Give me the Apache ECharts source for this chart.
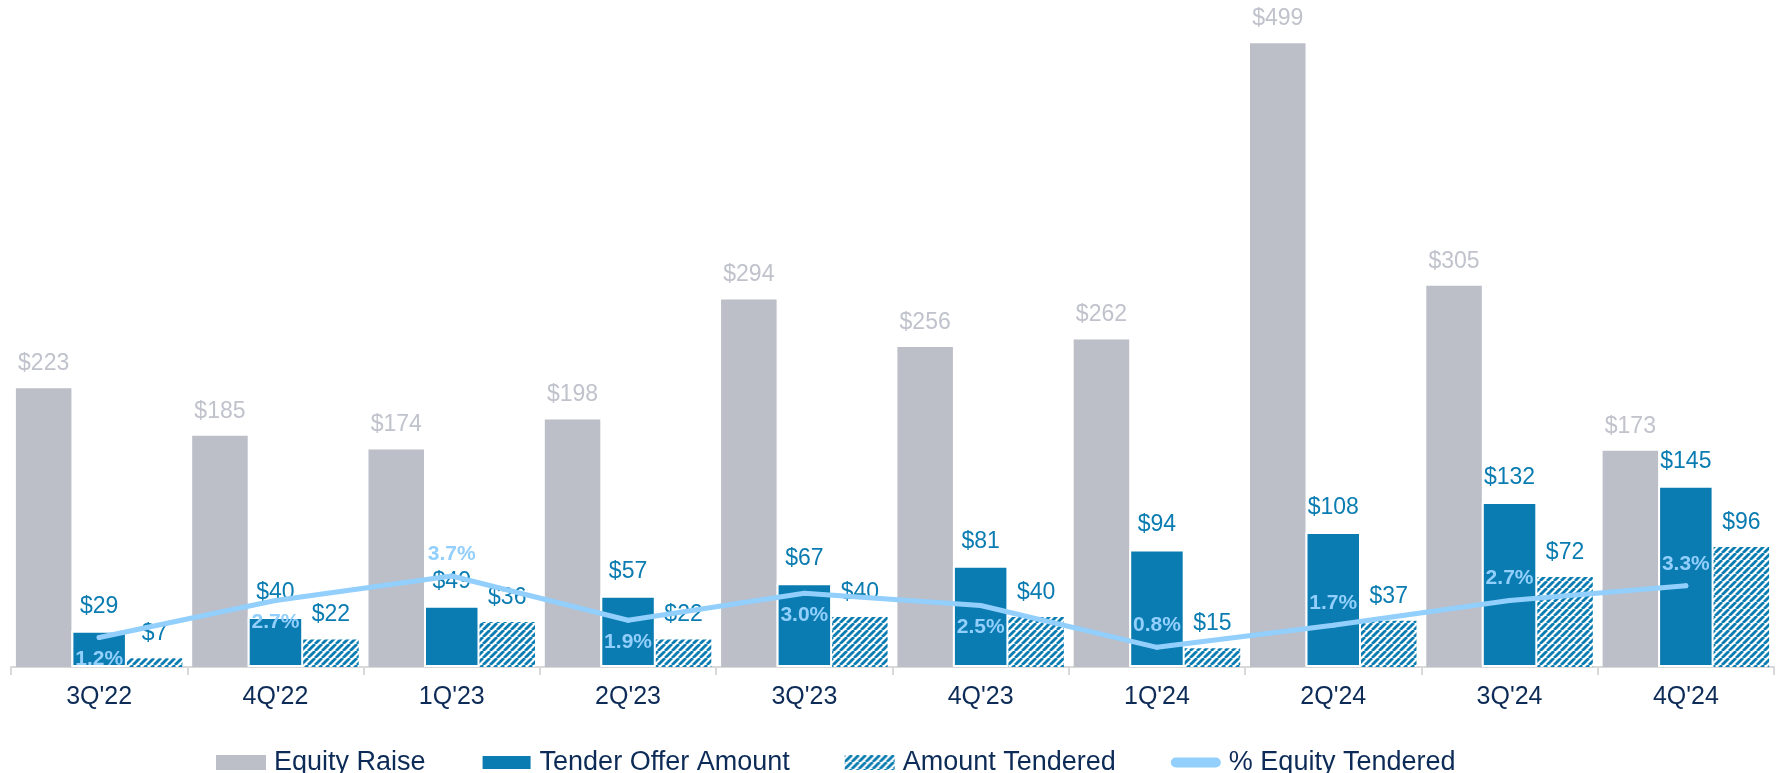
<!DOCTYPE html>
<html>
<head>
<meta charset="utf-8">
<script src="https://cdn.jsdelivr.net/npm/echarts@6/dist/echarts.min.js"></script>
<style>
  html, body { margin: 0; padding: 0; background: #fff; }
  #chart { width: 1777px; height: 773px; }
</style>
</head>
<body>
<div id="chart"></div>
<script>
// quarters on the x axis
const categories = ["3Q'22", "4Q'22", "1Q'23", "2Q'23", "3Q'23", "4Q'23", "1Q'24", "2Q'24", "3Q'24", "4Q'24"]
// $ amounts
const equityRaise = [223, 185, 174, 198, 294, 256, 262, 499, 305, 173]
const tenderOffer = [29, 40, 49, 57, 67, 81, 94, 108, 132, 145]
const amountTendered = [7, 22, 36, 22, 40, 40, 15, 37, 72, 96]
// % equity tendered (right axis)
const pctTendered = [1.2, 2.7, 3.7, 1.9, 3.0, 2.5, 0.8, 1.7, 2.7, 3.3]
// where each % label sits relative to its point
const pctLabelSide = ['bottom', 'bottom', 'top', 'bottom', 'bottom', 'bottom', 'top', 'top', 'top', 'top']

const FONT = 'Liberation Sans, Arial, sans-serif'
const GRAY = '#bcbec8'
const BLUE = '#0a7cb1'
const LIGHT = '#92cffc'
const NAVY = '#0d2b57'

// diagonal stripe fill for "Amount Tendered"
function stripes () {
  const c = document.createElement('canvas')
  const s = 7
  c.width = s
  c.height = s
  const ctx = c.getContext('2d')
  ctx.fillStyle = '#fff'
  ctx.fillRect(0, 0, s, s)
  ctx.strokeStyle = BLUE
  ctx.lineWidth = 2.8
  for (let k = -1; k <= 1; k++) {
    ctx.beginPath()
    ctx.moveTo(k * s, s)
    ctx.lineTo(k * s + s, 0)
    ctx.stroke()
  }
  return c
}

const chart = echarts.init(document.getElementById('chart'))

const barLabel = (color) => ({
  show: true,
  position: 'top',
  distance: 13,
  color: color,
  fontSize: 23,
  fontFamily: FONT,
  formatter: p => '$' + p.value
})

chart.setOption({
  animation: false,
  grid: { left: 11, right: 3, top: 42, bottom: 106 },
  legend: {
    left: 211,
    top: 744,
    itemWidth: 50,
    itemHeight: 15,
    itemGap: 55,
    textStyle: { color: NAVY, fontSize: 27, fontFamily: FONT, padding: [0, 0, 0, 3] },
    data: [
      { name: 'Equity Raise', icon: 'rect' },
      { name: 'Tender Offer Amount', icon: 'rect' },
      { name: 'Amount Tendered', icon: 'rect' },
      { name: '% Equity Tendered', icon: 'path://M5,0 L45,0 A5,5 0 0 1 45,10 L5,10 A5,5 0 0 1 5,0 Z' }
    ]
  },
  xAxis: {
    type: 'category',
    data: categories,
    axisLine: { lineStyle: { color: '#d9d9d9', width: 2 } },
    axisTick: { show: true, length: 8, lineStyle: { color: '#d9d9d9', width: 2 } },
    axisLabel: { color: NAVY, fontSize: 25, fontFamily: FONT, margin: 18, interval: 0 }
  },
  yAxis: [
    { type: 'value', min: 0, max: 500, show: false, splitLine: { show: false } },
    { type: 'value', min: 0, max: 25.4, show: false, splitLine: { show: false } }
  ],
  series: [
    {
      name: 'Equity Raise',
      type: 'bar',
      barWidth: 55.5,
      barGap: '0%',
      data: equityRaise,
      itemStyle: { color: GRAY },
      label: barLabel('#c0c2cc')
    },
    {
      name: 'Tender Offer Amount',
      type: 'bar',
      barWidth: 55.5,
      barGap: '0%',
      data: tenderOffer,
      itemStyle: { color: BLUE, borderColor: '#fff', borderWidth: 2 },
      label: barLabel(BLUE)
    },
    {
      name: 'Amount Tendered',
      type: 'bar',
      barWidth: 55.5,
      barGap: '0%',
      data: amountTendered,
      itemStyle: { color: { image: stripes(), repeat: 'repeat' } },
      label: barLabel(BLUE)
    },
    {
      name: '% Equity Tendered',
      type: 'line',
      yAxisIndex: 1,
      z: 5,
      data: pctTendered.map((v, i) => ({
        value: v,
        label: { position: pctLabelSide[i] }
      })),
      symbol: 'circle',
      symbolSize: 5,
      itemStyle: { color: LIGHT },
      lineStyle: { color: LIGHT, width: 5, cap: 'round' },
      label: {
        show: true,
        distance: 9,
        color: LIGHT,
        fontSize: 21,
        fontWeight: 'bold',
        fontFamily: FONT,
        formatter: p => p.value.toFixed(1) + '%'
      }
    }
  ]
})
</script>
</body>
</html>
